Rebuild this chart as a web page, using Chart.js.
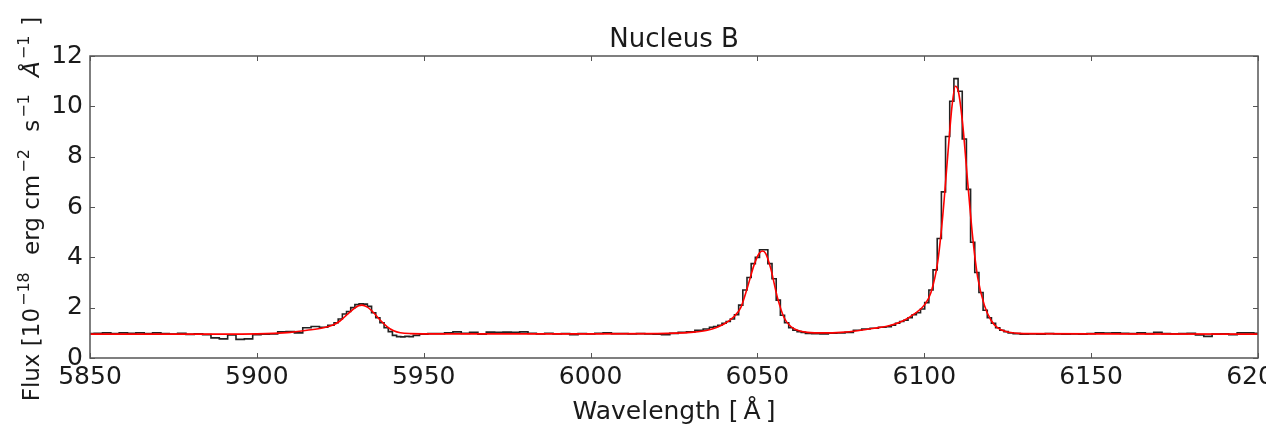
<!DOCTYPE html>
<html>
<head>
<meta charset="utf-8">
<title>Nucleus B</title>
<script src="https://cdn.jsdelivr.net/npm/chart.js@4.4.1/dist/chart.umd.min.js"></script>
<style>
  body { margin: 0; background: #fff; }
  canvas { display: block; }
</style>
</head>
<body>
<canvas id="spectrumChart" width="1266" height="432"></canvas>
<script>
// observed spectrum (stepped), wavelength in Angstrom
const obsWave = [
  5850, 5852.5, 5855, 5857.5, 5860, 5862.5, 5865, 5867.5, 5870, 5872.5, 5875, 5877.5, 5880, 5882.5, 5885,
  5887.5, 5890, 5892.5, 5895, 5897.5, 5900, 5902.5, 5905, 5907.5, 5910, 5912.5, 5915, 5917.5, 5920, 5922.5,
  5923.75, 5925, 5926.25, 5927.5, 5928.75, 5930, 5931.25, 5932.5, 5933.75, 5935, 5936.25, 5937.5, 5938.75,
  5940, 5941.25, 5942.5, 5943.75, 5945, 5946.25, 5947.5,
  5950, 5952.5, 5955, 5957.5, 5960, 5962.5, 5965, 5967.5, 5970, 5972.5, 5975, 5977.5, 5980, 5982.5, 5985,
  5987.5, 5990, 5992.5, 5995, 5997.5, 6000, 6002.5, 6005, 6007.5, 6010, 6012.5, 6015, 6017.5, 6020, 6022.5,
  6025, 6027.5, 6030, 6032.5, 6035,
  6036.25, 6037.5, 6038.75, 6040, 6041.25, 6042.5, 6043.75, 6045, 6046.25, 6047.5, 6048.75, 6050, 6051.25,
  6052.5, 6053.75, 6055, 6056.25, 6057.5, 6058.75, 6060, 6061.25, 6062.5, 6063.75, 6065,
  6067.5, 6070, 6072.5, 6075, 6077.5, 6080, 6082.5, 6085, 6087.5, 6089.5,
  6090.75, 6092, 6093.25, 6094.5, 6095.75, 6097, 6098.25, 6099.5, 6100.75, 6102, 6103.25, 6104.5, 6105.75,
  6107, 6108.25, 6109.5, 6110.75, 6112, 6113.25, 6114.5, 6115.75, 6117, 6118.25, 6119.5, 6120.75, 6122,
  6123.25, 6124.5, 6125.75,
  6127.5, 6130, 6132.5, 6135, 6137.5, 6140, 6142.5, 6145, 6147.5, 6150, 6152.5, 6155, 6157.5, 6160, 6162.5,
  6165, 6167.5, 6170, 6172.5, 6175, 6177.5, 6180, 6182.5, 6185, 6187.5, 6190, 6192.5, 6195, 6197.5, 6200
];
const obsFlux = [
  0.97, 0.98, 1.0, 0.97, 1.0, 0.98, 1.0, 0.97, 1.0, 0.97, 0.95, 0.98, 0.94, 0.96, 0.93,
  0.8, 0.76, 0.92, 0.74, 0.76, 0.93, 0.95, 0.96, 1.04, 1.05, 1.0, 1.2, 1.25, 1.22, 1.3,
  1.4, 1.55, 1.75, 1.85, 2.0, 2.12, 2.15, 2.14, 2.05, 1.8, 1.6, 1.4, 1.2,
  1.05, 0.9, 0.85, 0.84, 0.86, 0.85, 0.9,
  0.95, 0.97, 0.97, 1.0, 1.04, 0.98, 1.02, 0.95, 1.03, 1.02, 1.03, 1.02, 1.04, 0.98, 0.96,
  0.98, 0.96, 0.97, 0.93, 0.97, 0.96, 0.98, 1.0, 0.97, 0.97, 0.96, 0.97, 0.96, 0.95, 0.93,
  0.98, 1.02, 1.04, 1.1, 1.15,
  1.22, 1.25, 1.3, 1.38, 1.45, 1.55, 1.72, 2.1, 2.7, 3.2, 3.75, 4.0, 4.3,
  4.3, 3.75, 3.15, 2.3, 1.7, 1.4, 1.2, 1.1, 1.05, 1.02, 0.98,
  0.97, 0.96, 0.99, 1.0, 1.02, 1.1, 1.15, 1.18, 1.22, 1.24,
  1.3, 1.38, 1.45, 1.5, 1.6, 1.72, 1.8, 1.95, 2.2, 2.7, 3.5, 4.75, 6.6,
  8.8, 10.2, 11.1, 10.6, 8.7, 6.7, 4.6, 3.4, 2.6, 1.9, 1.6, 1.38, 1.2,
  1.1, 1.05, 1.0,
  0.97, 0.95, 0.96, 0.95, 0.97, 0.96, 0.95, 0.96, 0.95, 0.97, 1.0, 0.99, 1.0, 0.98, 0.97,
  1.0, 0.97, 1.02, 0.97, 0.96, 0.97, 0.98, 0.92, 0.86, 0.95, 0.96, 0.93, 1.0, 1.0, 0.98
];

// fitted model (red)
const fitWave = [
  5850, 5870, 5890, 5900, 5905, 5910, 5915, 5920, 5923, 5925, 5927, 5929, 5930.5, 5931.5, 5933, 5935,
  5937, 5939, 5941, 5943, 5946, 5955, 5980, 6000, 6020, 6030, 6035, 6040, 6043, 6045, 6047, 6049,
  6050.5, 6051.5, 6052.5, 6054, 6056, 6058, 6060, 6062, 6065, 6070, 6075, 6080, 6085, 6090, 6094,
  6097, 6100, 6102, 6104, 6105.5, 6107, 6108.3, 6109.3, 6110.2, 6111.5, 6113, 6114.5, 6116, 6118,
  6120, 6122, 6125, 6130, 6150, 6200
];
const fitFlux = [
  0.95, 0.95, 0.95, 0.96, 0.98, 1.02, 1.1, 1.2, 1.32, 1.48, 1.72, 1.95, 2.08, 2.1, 2.03, 1.8,
  1.5, 1.25, 1.08, 1.0, 0.97, 0.96, 0.96, 0.96, 0.97, 1.02, 1.1, 1.35, 1.65, 2.0, 2.8, 3.7,
  4.15, 4.25, 4.15, 3.55, 2.4, 1.6, 1.25, 1.1, 1.02, 1.0, 1.02, 1.08, 1.18, 1.3, 1.5,
  1.75, 2.1, 2.6, 3.8, 5.6, 8.0, 10.0, 10.8, 10.6, 9.3, 7.0, 4.8, 3.2, 2.1,
  1.5, 1.2, 1.03, 0.97, 0.96, 0.95
];

const xTicks = [5850, 5900, 5950, 6000, 6050, 6100, 6150, 6200];
const yTicks = [0, 2, 4, 6, 8, 10, 12];

const toPoints = (xs, ys) => xs.map((x, i) => ({ x: x, y: ys[i] }));

const FRAME = '#555';
const TEXT = '#1a1a1a';
const FONT = "'DejaVu Sans', sans-serif";

// matplotlib-style box with inward ticks on all four sides
const frameTicks = {
  id: 'frameTicks',
  afterDatasetsDraw(chart) {
    const { ctx, chartArea: a, scales } = chart;
    const len = 5;
    ctx.save();
    ctx.strokeStyle = FRAME;
    ctx.lineWidth = 1;
    scales.x.ticks.forEach(t => {
      const px = Math.round(scales.x.getPixelForValue(t.value)) + 0.5;
      ctx.beginPath();
      ctx.moveTo(px, a.bottom); ctx.lineTo(px, a.bottom - len);
      ctx.moveTo(px, a.top); ctx.lineTo(px, a.top + len);
      ctx.stroke();
    });
    scales.y.ticks.forEach(t => {
      const py = Math.round(scales.y.getPixelForValue(t.value)) + 0.5;
      ctx.beginPath();
      ctx.moveTo(a.left, py); ctx.lineTo(a.left + len, py);
      ctx.moveTo(a.right, py); ctx.lineTo(a.right - len, py);
      ctx.stroke();
    });
    ctx.lineWidth = 1.5;
    ctx.strokeRect(a.left, a.top, a.right - a.left, a.bottom - a.top);
    ctx.restore();
  }
};

// title centred over the axes, and the y label with real superscripts
const labels = {
  id: 'labels',
  afterDraw(chart) {
    const { ctx, chartArea: a } = chart;
    ctx.save();
    ctx.fillStyle = TEXT;
    ctx.textAlign = 'center';
    ctx.textBaseline = 'middle';
    ctx.font = `26px ${FONT}`;
    ctx.fillText('Nucleus B', (a.left + a.right) / 2, 40);

    // y label: [text, isSuperscript, italic]
    const parts = [
      ['Flux [10', false], ['\u221218', true], [' erg cm', false], ['\u22122', true],
      [' s', false], ['\u22121', true], [' ', false], ['Å', false, true], ['\u22121', true], [']', false]
    ];
    const before = 2, after = 10;
    const fontOf = p => `${p[2] ? 'italic ' : ''}${p[1] ? 16 : 23}px ${FONT}`;
    let total = 0;
    parts.forEach(p => {
      ctx.font = fontOf(p);
      total += ctx.measureText(p[0]).width + (p[1] ? before + after : 0);
    });
    ctx.translate(39, (a.top + a.bottom) / 2 + 2);
    ctx.rotate(-Math.PI / 2);
    ctx.textAlign = 'left';
    ctx.textBaseline = 'alphabetic';
    let x = -total / 2;
    parts.forEach(p => {
      ctx.font = fontOf(p);
      if (p[1]) x += before;
      ctx.fillText(p[0], x, p[1] ? -10 : 0);
      x += ctx.measureText(p[0]).width + (p[1] ? after : 0);
    });
    ctx.restore();
  }
};

new Chart(document.getElementById('spectrumChart'), {
  type: 'line',
  data: {
    datasets: [
      {
        label: 'fit',
        data: toPoints(fitWave, fitFlux),
        borderColor: '#ff0000',
        borderWidth: 1.6,
        pointRadius: 0,
        cubicInterpolationMode: 'monotone',
        fill: false
      },
      {
        label: 'observed',
        data: toPoints(obsWave, obsFlux),
        borderColor: '#222',
        borderWidth: 1.6,
        pointRadius: 0,
        stepped: 'middle',
        fill: false
      }
    ]
  },
  options: {
    responsive: false,
    animation: false,
    events: [],
    layout: { padding: { left: 0, right: 8, top: 56, bottom: 0 } },
    plugins: {
      legend: { display: false },
      tooltip: { enabled: false },
      title: { display: false }
    },
    scales: {
      x: {
        type: 'linear',
        min: 5850,
        max: 6200,
        afterBuildTicks: s => { s.ticks = xTicks.map(v => ({ value: v })); },
        afterFit: s => { s.height = 74; s.paddingLeft = 0; s.paddingRight = 0; },
        grid: { display: false, drawTicks: false },
        border: { display: false },
        ticks: {
          color: TEXT,
          font: { family: FONT, size: 25 },
          padding: 4,
          maxRotation: 0,
          autoSkip: false,
          callback: v => String(v)
        },
        title: {
          display: true,
          text: 'Wavelength [\u2009Å\u2009]',
          color: TEXT,
          font: { family: FONT, size: 25 },
          padding: { top: 0, bottom: 5 }
        }
      },
      y: {
        min: 0,
        max: 12,
        afterBuildTicks: s => { s.ticks = yTicks.map(v => ({ value: v })); },
        afterFit: s => { s.width = 90; s.paddingTop = 0; s.paddingBottom = 0; },
        grid: { display: false, drawTicks: false },
        border: { display: false },
        ticks: {
          color: TEXT,
          font: { family: FONT, size: 25 },
          padding: 7,
          autoSkip: false,
          callback: v => String(v)
        },
        title: { display: false }
      }
    }
  },
  plugins: [frameTicks, labels]
});
</script>
</body>
</html>
